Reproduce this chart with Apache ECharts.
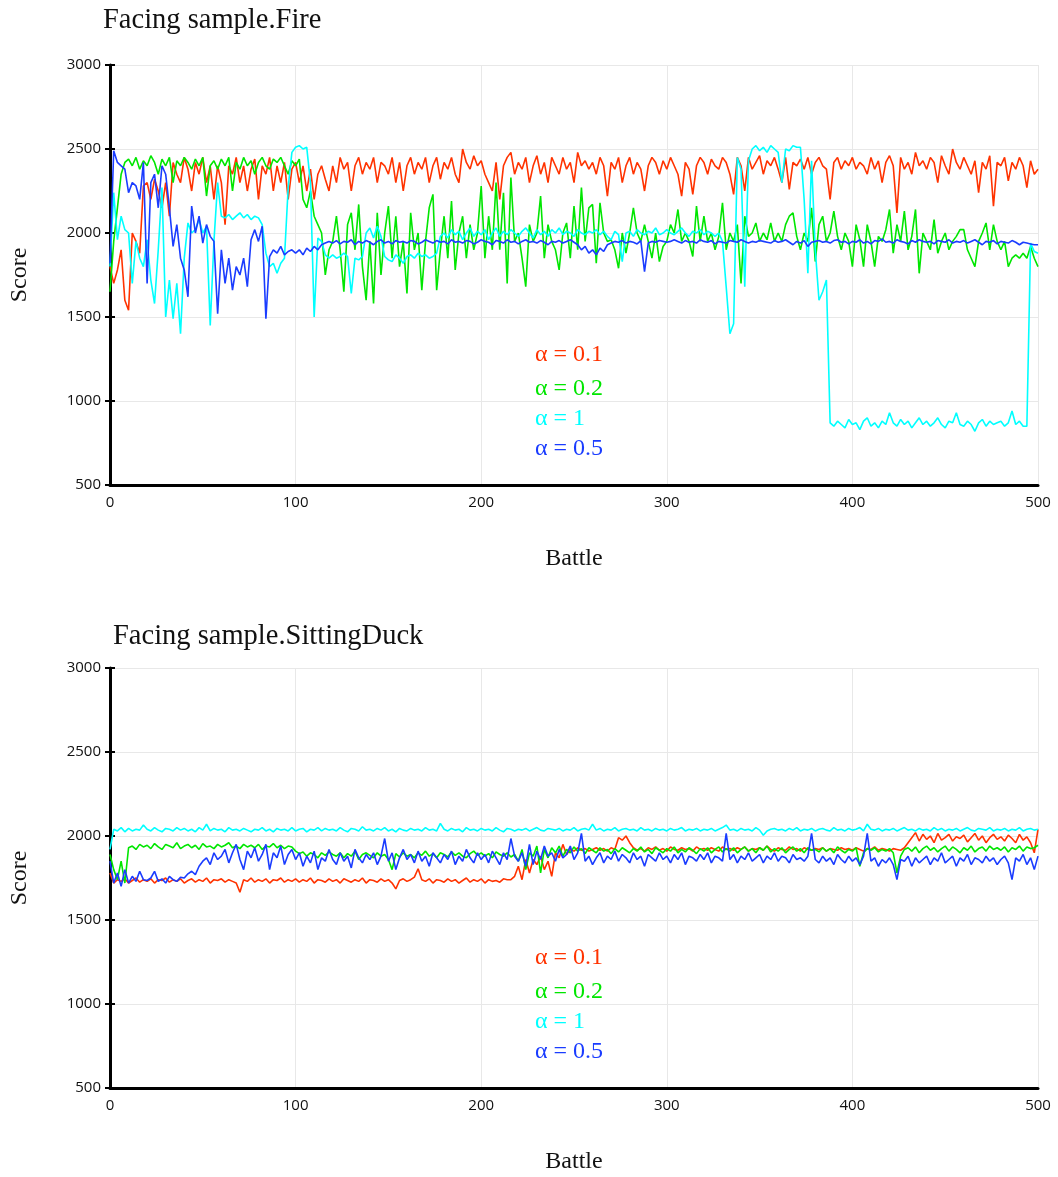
<!DOCTYPE html>
<html><head><meta charset="utf-8">
<script src="https://cdn.jsdelivr.net/npm/echarts@6.0.0/dist/echarts.min.js"></script>
<style>html,body{margin:0;padding:0;background:#fff}#c{width:1058px;height:1177px}</style>
</head><body><div id="c"></div>
<script>
// Battle numbers (sampled every 2 battles)
const battles = Array.from({length: 251}, (_, i) => i * 2);

const panelTitles = ['Facing sample.Fire', 'Facing sample.SittingDuck'];
const legendLabels = ['\u03b1 = 0.1', '\u03b1 = 0.2', '\u03b1 = 1', '\u03b1 = 0.5'];
const xTickValues = [0, 100, 200, 300, 400, 500];
const yTickValues = [500, 1000, 1500, 2000, 2500, 3000];

// ---- Facing sample.Fire ----
const fireA01 = [
1800,1700,1780,1900,1600,1540,2000,1950,1880,2280,
2300,2200,2320,2250,2150,2300,2100,2420,2350,2300,
2450,2380,2250,2420,2350,2450,2300,2400,2200,2400,
2300,2050,2400,2350,2450,2300,2400,2250,2380,2440,
2200,2400,2350,2450,2250,2400,2300,2420,2200,2380,
2420,2300,2400,2250,2380,2200,2350,2400,2320,2250,
2400,2300,2450,2380,2420,2250,2400,2450,2350,2420,
2380,2450,2300,2420,2400,2350,2450,2300,2420,2250,
2400,2450,2350,2420,2380,2450,2300,2400,2450,2320,
2420,2380,2450,2350,2300,2500,2420,2380,2460,2400,
2430,2350,2300,2250,2420,2200,2400,2450,2480,2350,
2420,2380,2450,2300,2400,2460,2350,2420,2300,2450,
2400,2350,2450,2380,2420,2300,2480,2400,2430,2380,
2420,2350,2450,2400,2220,2420,2380,2450,2300,2400,
2450,2350,2420,2380,2250,2400,2450,2420,2350,2430,
2380,2450,2400,2350,2220,2420,2380,2230,2400,2450,
2420,2350,2440,2400,2380,2450,2420,2350,2230,2450,
2400,2250,2450,2380,2420,2460,2350,2430,2400,2450,
2380,2300,2450,2260,2420,2400,2440,2380,2450,2350,
2420,2450,2400,2380,2200,2420,2450,2380,2430,2400,
2450,2380,2420,2400,2350,2450,2380,2430,2300,2420,
2460,2400,2120,2450,2380,2420,2350,2480,2400,2430,
2380,2450,2420,2300,2460,2400,2350,2500,2420,2380,
2450,2400,2350,2430,2240,2420,2380,2460,2160,2420,
2400,2450,2310,2420,2380,2450,2400,2270,2430,2350,
2380];
const fireA02 = [
1650,1950,2150,2350,2420,2440,2400,2450,2380,2430,
2400,2460,2420,2350,2440,2400,2450,2300,2430,2400,
2450,2420,2380,2440,2400,2450,2220,2400,2430,2380,
2440,2400,2450,2250,2420,2380,2450,2400,2430,2350,
2420,2450,2400,2380,2440,2420,2450,2400,2350,2430,
2400,2440,2200,2150,2250,2100,2050,2000,1750,1900,
1950,2100,1900,1650,2050,2120,1900,2170,1800,1600,
1950,1580,2120,1750,2000,2160,1850,2100,1800,1950,
1640,2120,1900,2000,1660,1950,2150,2230,1660,1900,
2100,1850,2190,1780,2000,2100,1850,2050,1900,2000,
2280,1850,2100,1900,2300,1900,2240,1700,2330,1950,
2000,1850,1680,2050,1950,2000,2220,1850,2050,1950,
1900,1780,2000,2060,1850,2160,1900,2270,1950,2150,
2170,1820,2180,2000,1950,1960,1900,1790,2000,1880,
2000,2150,2000,1950,2050,1950,1850,2000,1830,1920,
1950,2050,2000,2140,1950,2000,1950,1860,2160,1950,
2100,1950,2000,1900,1980,2180,1900,2000,1950,2050,
1700,2100,1980,2000,2060,1950,2000,1960,2060,1950,
2000,1950,2050,2100,2120,1980,1900,2000,1950,2150,
1830,2050,2100,1950,2000,2130,1980,1900,2000,1950,
1800,2050,1960,1800,2050,1950,1800,1980,1950,2020,
2140,1880,2050,1950,2130,1900,1980,2140,1760,2000,
1950,1900,2080,1880,1950,2000,1900,1950,1980,2020,
2020,1900,1850,1800,1950,2000,2060,1900,2050,1950,
1900,1950,1800,1850,1870,1850,1880,1850,1920,1850,
1800];
const fireA1 = [
1800,2240,1960,2100,2020,2000,1700,1950,1850,1800,
1960,1720,1580,1900,2270,1500,1720,1490,1700,1400,
1850,2060,2000,2020,2080,2000,2040,1450,1950,2300,
2100,2090,2110,2080,2100,2120,2090,2110,2080,2100,
2090,2050,1880,1800,1820,1760,1820,1850,2270,2480,
2510,2520,2500,2510,2300,1500,1970,1950,1870,1850,
1870,1850,1860,1880,1860,1640,1850,1840,1860,2000,
2030,1970,2040,1980,1860,1840,1830,1870,1850,1820,
1860,1870,1850,1880,1860,1870,1850,1860,1880,1980,
2000,1970,2020,1990,2010,1960,2000,2030,1980,2010,
1990,2020,1960,2000,2030,1980,2010,1990,2020,2000,
1980,2010,2030,2000,1970,2020,1990,2010,1980,2020,
2000,2030,1990,2010,2000,1980,2020,2000,1990,2010,
2000,2020,1990,2010,1980,1960,2010,1990,1830,2000,
2010,1980,2020,2000,1990,2010,2000,2030,1990,2000,
2020,2000,1990,2010,2030,2000,1980,2010,2000,2020,
1990,2010,2000,1980,2000,1950,1680,1400,1460,2450,
2380,1680,2430,2500,2520,2490,2510,2480,2520,2500,
2480,2300,2500,2490,2520,2510,2510,2200,1760,2430,
1900,1600,1650,1720,870,850,880,860,840,890,
860,870,830,880,900,850,870,840,880,860,
930,870,850,890,860,880,840,870,900,860,
880,850,870,900,860,840,880,870,930,860,
850,880,860,820,870,890,850,880,860,870,
880,850,870,940,860,880,850,850,1940,1890,
1880];
const fireA05 = [
1820,2490,2420,2400,2380,2240,2300,2280,2200,2420,
1700,2300,2350,2150,2400,2350,2150,1920,2050,1850,
1780,1620,2160,2000,2100,1940,2050,1980,1950,1520,
1900,1700,1850,1660,1800,1750,1850,1680,1960,2020,
1950,2040,1490,1860,1900,1880,1920,1870,1890,1900,
1880,1900,1870,1910,1890,1920,1900,1930,1940,1950,
1940,1955,1935,1950,1945,1960,1930,1950,1940,1955,
1945,1930,1950,1960,1940,1950,1935,1955,1945,1950,
1940,1955,1950,1935,1945,1960,1950,1940,1955,1945,
1950,1935,1960,1945,1950,1940,1955,1950,1935,1945,
1960,1950,1945,1930,1955,1950,1940,1960,1945,1950,
1935,1950,1960,1945,1950,1940,1955,1945,1930,1950,
1945,1955,1940,1950,1960,1945,1930,1900,1920,1880,
1900,1870,1910,1890,1930,1940,1950,1945,1955,1940,
1950,1945,1935,1955,1770,1940,1950,1945,1955,1950,
1945,1950,1960,1950,1940,1955,1945,1950,1940,1960,
1950,1945,1955,1935,1950,1945,1940,1955,1950,1945,
1960,1950,1940,1950,1945,1955,1950,1945,1940,1955,
1945,1950,1960,1945,1930,1950,1940,1955,1920,1945,
1950,1955,1945,1950,1940,1955,1960,1945,1950,1935,
1950,1945,1960,1940,1950,1935,1955,1950,1965,1945,
1950,1940,1960,1950,1945,1935,1955,1945,1960,1950,
1945,1950,1935,1955,1950,1945,1960,1940,1950,1945,
1955,1940,1950,1960,1945,1930,1950,1945,1955,1935,
1950,1945,1940,1955,1945,1930,1945,1940,1935,1930,
1930];

// ---- Facing sample.SittingDuck ----
const duckA01 = [
1780,1720,1740,1730,1745,1720,1735,1750,1725,1740,
1730,1745,1720,1740,1735,1750,1725,1740,1730,1745,
1720,1735,1745,1725,1740,1730,1750,1720,1740,1735,
1745,1725,1740,1730,1720,1665,1740,1730,1750,1725,
1740,1730,1745,1720,1740,1735,1750,1725,1740,1730,
1745,1725,1740,1730,1750,1720,1740,1735,1725,1745,
1730,1740,1720,1745,1735,1725,1740,1730,1750,1720,
1740,1735,1725,1745,1730,1740,1720,1685,1735,1745,
1730,1740,1755,1805,1740,1730,1745,1720,1740,1735,
1725,1745,1730,1740,1720,1735,1750,1725,1740,1730,
1745,1720,1740,1730,1735,1725,1745,1740,1740,1760,
1820,1740,1860,1780,1860,1830,1880,1800,1850,1760,
1900,1870,1950,1890,1920,1910,1930,1915,1925,1910,
1920,1930,1915,1925,1910,1930,1920,1990,1975,2000,
1960,1930,1915,1925,1910,1930,1920,1935,1915,1925,
1910,1935,1920,1915,1930,1920,1925,1910,1935,1920,
1925,1915,1930,1920,1910,1935,1920,1925,1915,1930,
1920,1935,1910,1925,1920,1930,1915,1940,1920,1910,
1930,1920,1915,1935,1920,1925,1910,1930,1920,1915,
1925,1920,1930,1910,1925,1920,1915,1930,1920,1925,
1915,1930,1920,1910,1925,1920,1935,1915,1925,1920,
1910,1925,1920,1915,1930,1960,1990,2020,1970,2010,
1980,2000,1960,2015,1975,1990,2010,1970,1995,1985,
2005,1965,1990,2015,1975,2000,1960,1990,2010,1980,
1995,1970,2005,1985,1960,2010,1975,1995,1960,1900,
2040];
const duckA02 = [
1890,1800,1740,1850,1720,1930,1940,1920,1950,1935,
1945,1925,1955,1935,1920,1950,1940,1930,1960,1925,
1940,1950,1930,1945,1920,1955,1935,1940,1925,1950,
1935,1945,1960,1930,1940,1925,1950,1935,1945,1930,
1950,1920,1940,1935,1955,1930,1945,1925,1940,1935,
1910,1895,1905,1880,1900,1890,1870,1900,1885,1905,
1890,1880,1900,1870,1895,1880,1910,1860,1890,1900,
1885,1870,1900,1880,1890,1860,1800,1895,1875,1900,
1880,1890,1870,1900,1885,1910,1880,1895,1870,1900,
1890,1875,1905,1885,1900,1880,1870,1895,1910,1885,
1900,1880,1895,1870,1905,1890,1880,1900,1875,1890,
1850,1920,1800,1900,1880,1940,1780,1920,1870,1930,
1900,1940,1880,1920,1900,1935,1910,1925,1895,1930,
1915,1900,1930,1910,1920,1895,1925,1905,1930,1915,
1900,1925,1910,1935,1905,1920,1895,1930,1915,1900,
1925,1910,1935,1900,1920,1905,1930,1915,1895,1925,
1910,1930,1900,1920,1935,1905,1925,1910,1930,1900,
1920,1935,1910,1925,1900,1930,1915,1940,1905,1925,
1910,1930,1900,1920,1935,1910,1925,1900,1930,1915,
1920,1905,1930,1910,1925,1900,1935,1915,1900,1920,
1910,1930,1820,1900,1925,1915,1930,1905,1920,1910,
1925,1900,1780,1880,1920,1930,1910,1935,1900,1925,
1940,1915,1930,1905,1925,1940,1910,1935,1920,1900,
1930,1915,1940,1905,1925,1935,1910,1940,1920,1930,
1915,1935,1905,1930,1920,1940,1910,1935,1925,1930,
1945];
const duckA1 = [
1920,2040,2030,2050,2025,2045,2030,2040,2035,2065,
2040,2030,2050,2035,2025,2045,2040,2030,2050,2035,
2045,2030,2040,2025,2050,2035,2070,2030,2045,2035,
2040,2025,2050,2035,2040,2030,2045,2035,2025,2040,
2035,2050,2030,2040,2025,2045,2035,2040,2030,2050,
2030,2040,2045,2025,2040,2035,2050,2030,2045,2035,
2040,2030,2050,2035,2025,2045,2040,2030,2055,2035,
2040,2030,2045,2035,2050,2030,2040,2025,2045,2035,
2030,2045,2035,2040,2030,2050,2035,2040,2030,2075,
2040,2030,2045,2035,2040,2025,2050,2035,2040,2030,
2045,2035,2040,2030,2050,2035,2025,2045,2040,2030,
2040,2035,2045,2030,2040,2050,2035,2030,2045,2040,
2035,2045,2030,2040,2035,2050,2030,2040,2045,2035,
2070,2035,2045,2030,2040,2035,2050,2030,2040,2045,
2035,2040,2030,2050,2035,2040,2030,2045,2035,2040,
2030,2045,2035,2040,2050,2030,2040,2035,2045,2030,
2040,2035,2045,2030,2040,2050,2065,2035,2040,2030,
2045,2035,2040,2030,2050,2035,2005,2030,2040,2045,
2035,2040,2030,2045,2035,2050,2030,2040,2035,2045,
2030,2040,2045,2035,2030,2050,2035,2040,2030,2045,
2035,2040,2050,2030,2070,2040,2035,2045,2030,2040,
2035,2045,2030,2040,2050,2035,2040,2030,2045,2035,
2040,2030,2050,2035,2045,2030,2040,2035,2045,2030,
2040,2050,2035,2030,2045,2040,2035,2050,2030,2040,
2035,2045,2030,2040,2035,2050,2030,2040,2045,2035,
2040];
const duckA05 = [
1850,1720,1780,1700,1800,1720,1760,1730,1790,1740,
1735,1750,1790,1730,1745,1720,1760,1740,1730,1755,
1750,1775,1790,1770,1820,1850,1870,1830,1900,1860,
1880,1920,1840,1900,1950,1860,1800,1910,1870,1930,
1850,1890,1950,1800,1900,1870,1940,1830,1890,1920,
1860,1900,1820,1880,1840,1910,1800,1870,1850,1920,
1860,1830,1900,1850,1880,1810,1920,1870,1840,1890,
1860,1900,1830,1880,1985,1850,1900,1800,1870,1920,
1860,1890,1840,1910,1850,1880,1820,1900,1870,1840,
1890,1860,1910,1830,1880,1850,1920,1870,1840,1900,
1860,1890,1840,1910,1870,1830,1900,1860,1985,1880,
1850,1900,1820,1950,1830,1910,1860,1940,1880,1900,
1850,1920,1870,1890,1940,1860,1900,2015,1850,1880,
1830,1870,1900,1840,1880,1860,1910,1850,1890,1870,
1840,1900,1860,1880,1820,1890,1870,1850,1900,1860,
1880,1840,1890,1860,1900,1830,1880,1870,1850,1890,
1860,1900,1840,1880,1870,1850,2015,1860,1890,1840,
1880,1860,1900,1850,1870,1890,1840,1880,1860,1900,
1850,1880,1870,1840,1890,1860,1870,1850,1880,2015,
1860,1840,1880,1850,1870,1830,1890,1860,1840,1880,
1850,1870,1830,1880,2015,1850,1870,1820,1860,1840,
1870,1830,1740,1860,1850,1880,1820,1870,1840,1860,
1880,1830,1870,1850,1900,1840,1860,1880,1820,1870,
1850,1890,1830,1870,1860,1840,1880,1850,1870,1830,
1860,1880,1840,1740,1870,1850,1890,1830,1870,1800,
1880];

const seriesColors = ['#ff3300', '#00e600', '#00ffff', '#1a3cff'];
const panels = [
  [fireA01, fireA02, fireA1, fireA05],
  [duckA01, duckA02, duckA1, duckA05]
];

const chart = echarts.init(document.getElementById('c'), null, {renderer: 'canvas'});
const serif = '"Liberation Serif", "Times New Roman", serif';
const sans = '"Open Sans", "DejaVu Sans", sans-serif';
const gridTops = [65, 668];
const titleTops = [6, 622];

const grids = [], xAxes = [], yAxes = [], series = [], titles = [], graphics = [];
panels.forEach((pd, g) => {
  grids.push({left: 108, top: gridTops[g], width: 930, height: 420});
  xAxes.push({
    type: 'value', gridIndex: g, min: xTickValues[0], max: xTickValues[xTickValues.length - 1], interval: 100,
    axisLine: {show: true, lineStyle: {color: '#000', width: 3}},
    axisTick: {show: false},
    axisLabel: {fontFamily: sans, fontSize: 15, color: '#111', margin: 10, formatter: v => String(v)},
    splitLine: {show: true, lineStyle: {color: '#e8e8e8', width: 1}},
    name: 'Battle', nameLocation: 'middle', nameGap: 62,
    nameTextStyle: {fontFamily: serif, fontSize: 24, color: '#111'}
  });
  yAxes.push({
    type: 'value', gridIndex: g, min: yTickValues[0], max: yTickValues[yTickValues.length - 1], interval: 500,
    axisLine: {show: true, lineStyle: {color: '#000', width: 3}},
    axisTick: {show: true, length: 5, lineStyle: {color: '#000', width: 2}},
    axisLabel: {fontFamily: sans, fontSize: 15, color: '#111', margin: 9, formatter: v => String(v)},
    splitLine: {show: true, lineStyle: {color: '#e8e8e8', width: 1}},
    name: 'Score', nameLocation: 'middle', nameGap: 78,
    nameTextStyle: {fontFamily: serif, fontSize: 24, color: '#111'}
  });
  titles.push({
    text: panelTitles[g], left: g === 0 ? 103 : 113, top: titleTops[g], padding: 0,
    textStyle: {fontFamily: serif, fontSize: 28.5, fontWeight: 'normal', color: '#111'}
  });
  pd.forEach((arr, k) => {
    series.push({
      type: 'line', xAxisIndex: g, yAxisIndex: g, showSymbol: false, symbol: 'none',
      data: arr.map((v, i) => [battles[i], v]),
      lineStyle: {color: seriesColors[k], width: 1.6},
      itemStyle: {color: seriesColors[k]},
      z: 2 + k, animation: false
    });
  });
  const legendY = [290, 324, 354, 384];
  legendLabels.forEach((t, k) => {
    graphics.push({
      type: 'text', x: 535, y: gridTops[g] + legendY[k], z: 100,
      style: {text: t, fill: seriesColors[k], font: '24px ' + serif, verticalAlign: 'middle', textVerticalAlign: 'middle'}
    });
  });
});
// inside half of the y-axis tick marks
panels.forEach((pd, g) => {
  yAxes.push({
    type: 'value', gridIndex: g, min: 500, max: 3000, interval: 500, position: 'left', offset: 0,
    axisLine: {show: false}, axisLabel: {show: false}, splitLine: {show: false},
    axisTick: {show: true, inside: true, length: 5, lineStyle: {color: '#000', width: 2}}
  });
});

chart.setOption({
  animation: false,
  backgroundColor: '#fff',
  title: titles,
  grid: grids,
  xAxis: xAxes,
  yAxis: yAxes,
  series: series,
  graphic: graphics
});
</script>
</body></html>
